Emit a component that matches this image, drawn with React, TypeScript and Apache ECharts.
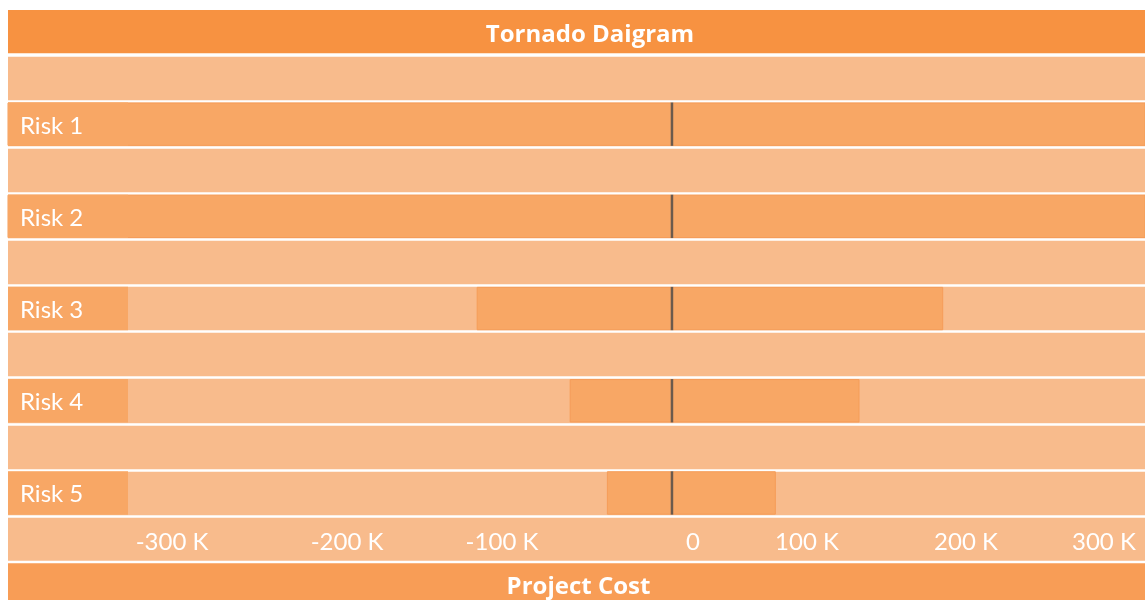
import React, { useEffect, useRef } from 'react';
import * as echarts from 'echarts';

const TITLE = 'Tornado Daigram';
const AXIS_TITLE = 'Project Cost';
const RISKS = ['Risk 1', 'Risk 2', 'Risk 3', 'Risk 4', 'Risk 5'];
const LOW = [-450, -450, -126, -66, -42];
const HIGH = [320, 320, 175, 121, 67];
const TICK_VALUES = [-300, -200, -100, 0, 100, 200, 300];
const TICK_LABELS = ['-300 K', '-200 K', '-100 K', '0', '100 K', '200 K', '300 K'];

// label placement nudges (px), layout only
const TICK_NUDGE = [-35, -15, -15, 21, -20, -16, -33];

const FONT = 'Lato';
const HEAD_FONT = 'Open Sans';
const HEADER = '#F79241';
const FOOTER = '#F89D56';
const BAR = '#F8A765';
const LIGHT = '#F8BB8C';
const EDGE = '#F59C58';
const CENTER = '#4A4A4A';

export default function App() {
  const ref = useRef<HTMLDivElement>(null);

  useEffect(() => {
    const rows = RISKS.flatMap((r, i) => [`gap${i}`, r]);
    const idx = (r: string) => RISKS.indexOf(r);
    const lowData = rows.map((r) => (idx(r) < 0 ? '-' : LOW[idx(r)]));
    const highData = rows.map((r) => (idx(r) < 0 ? '-' : HIGH[idx(r)]));

    const xRich: Record<string, any> = {};
    TICK_VALUES.forEach((v, i) => {
      const n = TICK_NUDGE[i];
      xRich['t' + i] = {
        fontFamily: FONT,
        fontSize: 24,
        color: '#ffffff',
        padding: n < 0 ? [0, -2 * n, 0, 0] : [0, 0, 0, 2 * n],
      };
    });

    const chart = echarts.init(ref.current!, null, { renderer: 'svg' });
    chart.setOption({
      animation: false,
      grid: { left: 8, right: 0, top: 55, height: 461, containLabel: false },
      xAxis: {
        type: 'value',
        min: -428.4,
        max: 305.2,
        splitNumber: 7,
        z: 5,
        axisLine: { show: false },
        axisTick: { show: false },
        splitLine: { show: false },
        axisLabel: {
          margin: 24,
          verticalAlign: 'middle',
          showMinLabel: false,
          showMaxLabel: false,
          formatter: (v: number) => {
            const i = TICK_VALUES.findIndex((t) => Math.abs(t - v) < 1e-6);
            return i < 0 ? '' : `{t${i}|${TICK_LABELS[i]}}`;
          },
          rich: xRich,
        },
      },
      yAxis: [
        {
          type: 'category',
          data: rows,
          inverse: true,
          position: 'left',
          axisLine: { show: false },
          axisTick: { show: false },
          axisLabel: { show: false },
          splitLine: { show: true, interval: 0, lineStyle: { color: '#ffffff', width: 2.7 } },
          splitArea: { show: true, interval: 0, areaStyle: { color: [LIGHT] } },
        },
        {
          type: 'category',
          data: rows,
          inverse: true,
          position: 'left',
          z: 10,
          axisLine: { show: false },
          axisTick: { show: false },
          splitLine: { show: false },
          splitArea: { show: false },
          axisLabel: {
            inside: true,
            margin: 0,
            interval: 0,
            formatter: (v: string) => (RISKS.indexOf(v) < 0 ? '' : `{cell|${v}}`),
            rich: {
              cell: {
                width: 108,
                height: 43.4,
                lineHeight: 43.4,
                padding: [0, 0, 0, 12],
                backgroundColor: BAR,
                color: '#ffffff',
                fontFamily: FONT,
                fontSize: 24,
                verticalAlign: 'middle',
              },
            },
          },
        },
      ],
      series: [
        {
          type: 'bar',
          name: 'Low',
          stack: 'range',
          yAxisIndex: 0,
          data: lowData,
          barWidth: 43.4,
          itemStyle: { color: BAR, borderColor: EDGE, borderWidth: 1 },
        },
        {
          type: 'bar',
          name: 'High',
          stack: 'range',
          yAxisIndex: 0,
          data: highData,
          barWidth: 43.4,
          itemStyle: { color: BAR, borderColor: EDGE, borderWidth: 1 },
        },
        {
          type: 'scatter',
          name: 'Base',
          yAxisIndex: 0,
          z: 4,
          data: RISKS.map((r) => [0, r]),
          symbol: 'rect',
          symbolSize: [2.5, 43.4],
          itemStyle: { color: CENTER },
        },
      ],
      graphic: [
        { type: 'rect', z: 1, shape: { x: 8, y: 10, width: 1137, height: 43.3 }, style: { fill: HEADER } },
        {
          type: 'text',
          z: 6,
          x: 590,
          y: 32,
          style: {
            text: TITLE,
            fill: '#ffffff',
            fontFamily: HEAD_FONT,
            fontWeight: 'bold',
            fontSize: 24,
            align: 'center',
            verticalAlign: 'middle',
          },
        },
        { type: 'rect', z: 1, shape: { x: 8, y: 517.7, width: 1137, height: 43 }, style: { fill: LIGHT } },
        { type: 'rect', z: 1, shape: { x: 8, y: 563.3, width: 1137, height: 40 }, style: { fill: FOOTER } },
        {
          type: 'text',
          z: 6,
          x: 578.5,
          y: 584,
          style: {
            text: AXIS_TITLE,
            fill: '#ffffff',
            fontFamily: HEAD_FONT,
            fontWeight: 'bold',
            fontSize: 24,
            align: 'center',
            verticalAlign: 'middle',
          },
        },
      ],
    });
    return () => chart.dispose();
  }, []);

  return (
    <div
      ref={ref}
      style={{ position: 'fixed', left: 0, top: 0, width: 1145, height: 600 }}
    />
  );
}
